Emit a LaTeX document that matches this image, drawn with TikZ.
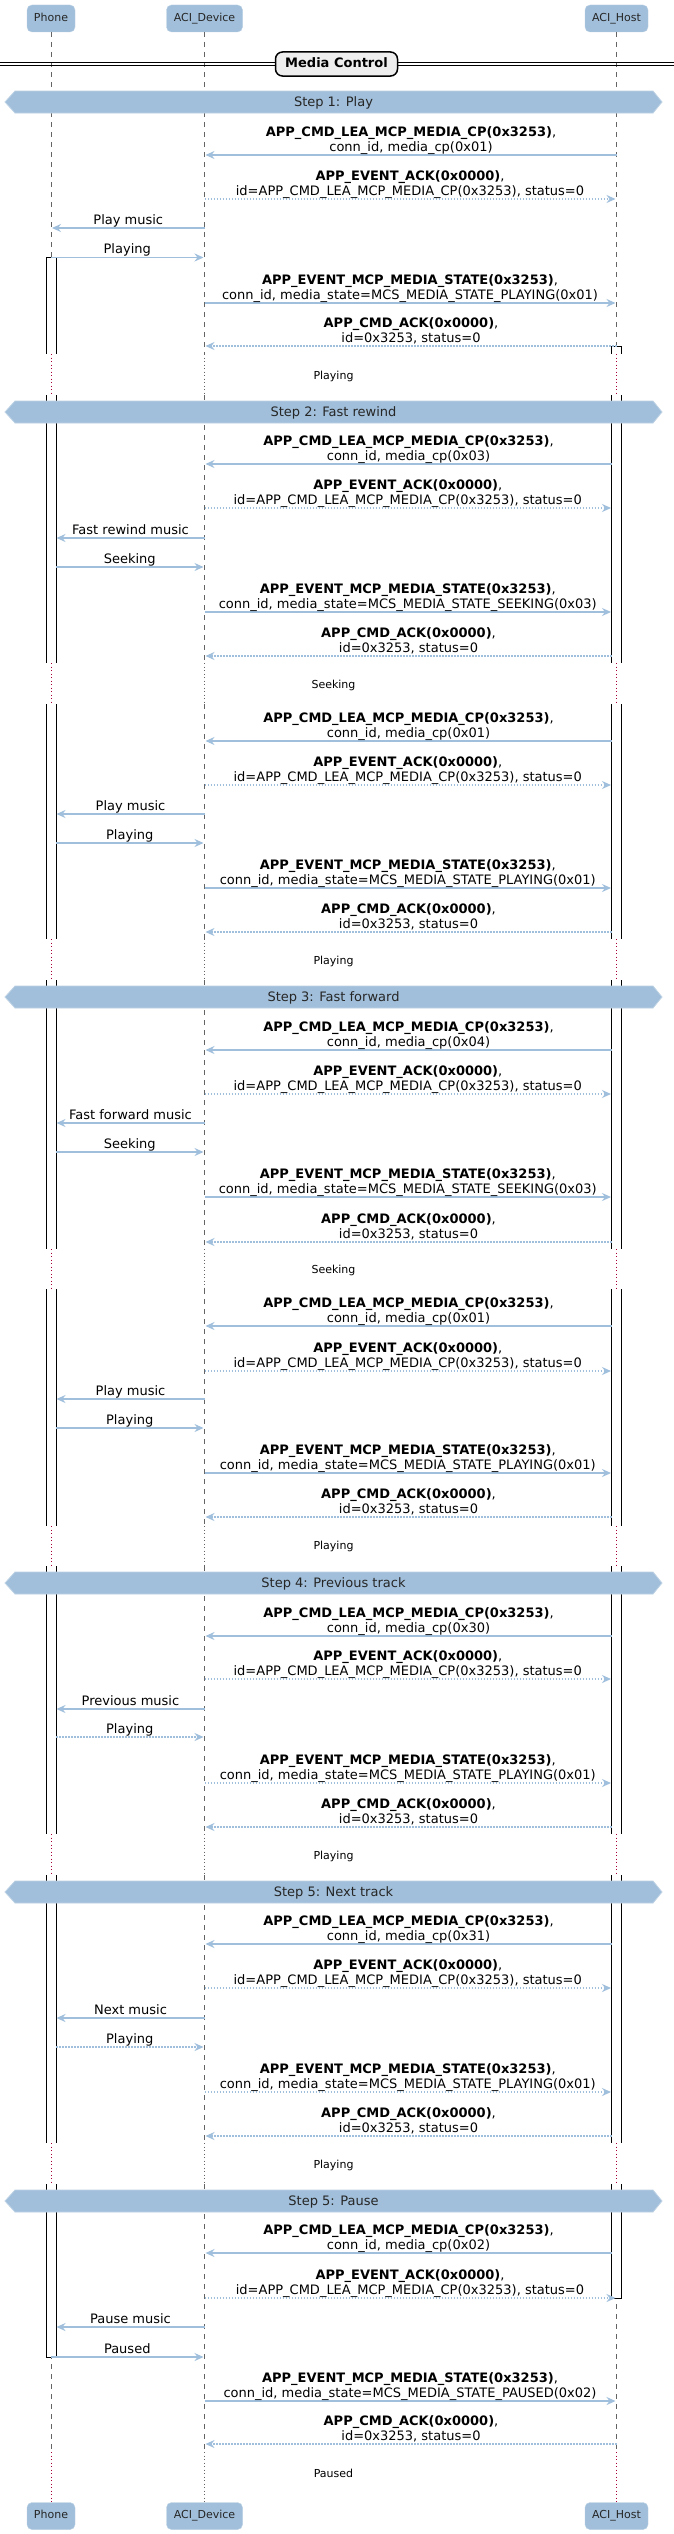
\documentclass[tikz,border=0pt]{standalone}
\usepackage{fontspec}
\setmainfont{DejaVu Sans}
\usetikzlibrary{arrows.meta}
\definecolor{pblue}{RGB}{161,191,218}
\definecolor{ablue}{RGB}{160,191,220}
\definecolor{dred}{RGB}{168,0,54}
\definecolor{lgray}{RGB}{100,100,100}
\definecolor{mcgray}{RGB}{238,238,238}
\newcounter{mc}
\newcommand\tCMD{APP\_CMD\_LEA\_MCP\_MEDIA\_CP(0x3253)}
\newcommand\tACK{APP\_EVENT\_ACK(0x0000)}
\newcommand\tACKb{id=APP\_CMD\_LEA\_MCP\_MEDIA\_CP(0x3253), status=0}
\newcommand\tST{APP\_EVENT\_MCP\_MEDIA\_STATE(0x3253)}
\newcommand\tCA{APP\_CMD\_ACK(0x0000)}
\newcommand\tCAb{id=0x3253, status=0}
% y, x1, x2, style, text
\newcommand\msgone[5]{%
  \stepcounter{mc}%
  \coordinate (a\themc) at (#2,#1);
  \coordinate (b\themc) at (#3,#1);
  \draw[#4] (a\themc) -- (b\themc);
  \node[lbl] (t\themc) at ({(#2+#3)/2},{#1-4}) {#5};
}
% y, x1, x2, style, bold part, second line
\newcommand\msgtwo[6]{%
  \stepcounter{mc}%
  \coordinate (a\themc) at (#2,#1);
  \coordinate (b\themc) at (#3,#1);
  \draw[#4] (a\themc) -- (b\themc);
  \node[lbl] (t\themc) at ({(#2+#3)/2},{#1-19}) {\textbf{#5},};
  \node[lbl] (u\themc) at ({(#2+#3)/2},{#1-4}) {#6};
}
% y centre, name, text
\newcommand\banner[3]{%
  \path[bannershape] (5,#1) -- (15,#1-11) -- (653,#1-11) -- (662,#1) -- (653,#1+11) -- (15,#1+11) -- cycle;
  \node[bnlbl] (#2) at (333.5,#1+4.5) {#3};
}
\begin{document}
\begin{tikzpicture}[x=1bp,y=-1bp,
  msgsol/.style={draw=ablue, line width=1.5bp, -{Stealth[length=9bp,width=8bp,inset=3bp]}},
  msgdot/.style={msgsol, dash pattern=on 1.5bp off 1.5bp},
  lbl/.style={anchor=base, inner sep=0, font=\fontsize{13bp}{15bp}\selectfont},
  dlbl/.style={anchor=base, inner sep=0, font=\fontsize{11bp}{13bp}\selectfont},
  bnlbl/.style={anchor=base, inner sep=0, text=black!85, font=\fontsize{13bp}{15bp}\selectfont},
  bannershape/.style={fill=pblue, draw=pblue!70!white, line width=0.8bp},
  lifeln/.style={draw=lgray, line width=0.8bp, dash pattern=on 5bp off 5bp},
  rdot/.style={draw=dred, line width=1bp, dash pattern=on 1bp off 2.5bp},
  gdot/.style={draw=lgray, line width=0.8bp, dash pattern=on 1bp off 2.5bp},
  actbar/.style={draw=black, line width=1bp},
  head/.style={draw=pblue!75!white, fill=pblue, rounded corners=5bp, minimum height=27bp,
    inner sep=0, text height=8bp, text depth=2.5bp, text=black!85, font=\fontsize{11bp}{13bp}\selectfont},
  mcbox/.style={draw=black, fill=mcgray, line width=1.5bp, rounded corners=7bp,
    minimum width=122bp, minimum height=24bp, inner sep=0, text height=9.5bp, text depth=3bp,
    font=\bfseries\fontsize{13bp}{15bp}\selectfont}
]
\useasboundingbox (0,0) rectangle (674,2534);
\fill[white] (0,0) rectangle (674,2534);

% heads
\node[head, minimum width=48bp] (ph) at (51,18.5) {Phone};
\node[head, minimum width=76bp] (dv) at (204.5,18.5) {ACI\_Device};
\node[head, minimum width=63bp] (hs) at (616.5,18.5) {ACI\_Host};
\node[head, minimum width=48bp] (phb) at (51,2516) {Phone};
\node[head, minimum width=76bp] (dvb) at (204.5,2516) {ACI\_Device};
\node[head, minimum width=63bp] (hsb) at (616.5,2516) {ACI\_Host};

% lifelines
\foreach \x in {51,204.5,616.5}{
  \foreach \a/\b in {32/354,395/663,704/939,980/1249,1289/1526,1566/1834,1875/2143,2184/2452}{
    \draw[lifeln] (\x,\a) -- (\x,\b);
  }
}
\foreach \a/\b in {354/395,663/704,939/980,1249/1289,1526/1566,1834/1875,2143/2184,2452/2503}{
  \draw[rdot] (51,\a) -- (51,\b);
  \draw[gdot] (204.5,\a) -- (204.5,\b);
  \draw[rdot] (616.5,\a) -- (616.5,\b);
}

% activation bars
\foreach \a/\b in {257/354,395/663,704/939,980/1249,1289/1526,1566/1834,1875/2143,2184/2357}{
  \fill[white] (46,\a) rectangle (56,\b);
  \draw[actbar] (46,\a) -- (46,\b) (56,\a) -- (56,\b);
}
\draw[actbar] (46,257) -- (56,257);
\draw[actbar] (46,2357) -- (56,2357);
\foreach \a/\b in {346/354,395/663,704/939,980/1249,1289/1526,1566/1834,1875/2143,2184/2298}{
  \fill[white] (611.5,\a) rectangle (621.5,\b);
  \draw[actbar] (611.5,\a) -- (611.5,\b) (621.5,\a) -- (621.5,\b);
}
\draw[actbar] (611.5,346) -- (621.5,346);
\draw[actbar] (611.5,2298) -- (621.5,2298);

% Media Control divider
\draw[black, line width=1bp] (0,62.5) -- (674,62.5);
\draw[black, line width=1bp] (0,66) -- (674,66);
\node[mcbox] (mctl) at (336.5,64) {Media Control};

% Step 1
\banner{102}{s1}{Step 1: Play}
\msgtwo{155}{616.5}{205.5}{msgsol}{\tCMD}{conn\_id, media\_cp(0x01)}
\msgtwo{199}{204.5}{615.5}{msgdot}{\tACK}{\tACKb}
\msgone{228}{204.5}{52}{msgsol}{Play music}
\msgone{257.5}{51}{203.5}{msgsol}{Playing}
\msgtwo{303}{204.5}{615.5}{msgsol}{\tST}{conn\_id, media\_state=MCS\_MEDIA\_STATE\_PLAYING(0x01)}
\msgtwo{346}{616.5}{205.5}{msgdot}{\tCA}{\tCAb}
\node[dlbl] (d1) at (333.5,379) {Playing};

% Step 2
\banner{412}{s2}{Step 2: Fast rewind}
\msgtwo{464}{611.5}{205.5}{msgsol}{\tCMD}{conn\_id, media\_cp(0x03)}
\msgtwo{508}{204.5}{611}{msgdot}{\tACK}{\tACKb}
\msgone{538}{204.5}{56.5}{msgsol}{Fast rewind music}
\msgone{567}{56}{203.5}{msgsol}{Seeking}
\msgtwo{612}{204.5}{611}{msgsol}{\tST}{conn\_id, media\_state=MCS\_MEDIA\_STATE\_SEEKING(0x03)}
\msgtwo{656}{611.5}{205.5}{msgdot}{\tCA}{\tCAb}
\node[dlbl] (d2) at (333.5,688) {Seeking};
\msgtwo{741}{611.5}{205.5}{msgsol}{\tCMD}{conn\_id, media\_cp(0x01)}
\msgtwo{785}{204.5}{611}{msgdot}{\tACK}{\tACKb}
\msgone{814}{204.5}{56.5}{msgsol}{Play music}
\msgone{843}{56}{203.5}{msgsol}{Playing}
\msgtwo{888}{204.5}{611}{msgsol}{\tST}{conn\_id, media\_state=MCS\_MEDIA\_STATE\_PLAYING(0x01)}
\msgtwo{932}{611.5}{205.5}{msgdot}{\tCA}{\tCAb}
\node[dlbl] (d3) at (333.5,964) {Playing};

% Step 3
\banner{997}{s3}{Step 3: Fast forward}
\msgtwo{1050}{611.5}{205.5}{msgsol}{\tCMD}{conn\_id, media\_cp(0x04)}
\msgtwo{1094}{204.5}{611}{msgdot}{\tACK}{\tACKb}
\msgone{1123}{204.5}{56.5}{msgsol}{Fast forward music}
\msgone{1152}{56}{203.5}{msgsol}{Seeking}
\msgtwo{1197}{204.5}{611}{msgsol}{\tST}{conn\_id, media\_state=MCS\_MEDIA\_STATE\_SEEKING(0x03)}
\msgtwo{1242}{611.5}{205.5}{msgdot}{\tCA}{\tCAb}
\node[dlbl] (d4) at (333.5,1273) {Seeking};
\msgtwo{1326}{611.5}{205.5}{msgsol}{\tCMD}{conn\_id, media\_cp(0x01)}
\msgtwo{1371}{204.5}{611}{msgdot}{\tACK}{\tACKb}
\msgone{1399}{204.5}{56.5}{msgsol}{Play music}
\msgone{1428}{56}{203.5}{msgsol}{Playing}
\msgtwo{1473}{204.5}{611}{msgsol}{\tST}{conn\_id, media\_state=MCS\_MEDIA\_STATE\_PLAYING(0x01)}
\msgtwo{1517}{611.5}{205.5}{msgdot}{\tCA}{\tCAb}
\node[dlbl] (d5) at (333.5,1549) {Playing};

% Step 4
\banner{1583}{s4}{Step 4: Previous track}
\msgtwo{1636}{611.5}{205.5}{msgsol}{\tCMD}{conn\_id, media\_cp(0x30)}
\msgtwo{1679}{204.5}{611}{msgdot}{\tACK}{\tACKb}
\msgone{1709}{204.5}{56.5}{msgsol}{Previous music}
\msgone{1737}{56}{203.5}{msgdot}{Playing}
\msgtwo{1783}{204.5}{611}{msgdot}{\tST}{conn\_id, media\_state=MCS\_MEDIA\_STATE\_PLAYING(0x01)}
\msgtwo{1827}{611.5}{205.5}{msgdot}{\tCA}{\tCAb}
\node[dlbl] (d6) at (333.5,1859) {Playing};

% Step 5 next track
\banner{1892}{s5}{Step 5: Next track}
\msgtwo{1944}{611.5}{205.5}{msgsol}{\tCMD}{conn\_id, media\_cp(0x31)}
\msgtwo{1988}{204.5}{611}{msgdot}{\tACK}{\tACKb}
\msgone{2018}{204.5}{56.5}{msgsol}{Next music}
\msgone{2047}{56}{203.5}{msgdot}{Playing}
\msgtwo{2092}{204.5}{611}{msgdot}{\tST}{conn\_id, media\_state=MCS\_MEDIA\_STATE\_PLAYING(0x01)}
\msgtwo{2136}{611.5}{205.5}{msgdot}{\tCA}{\tCAb}
\node[dlbl] (d7) at (333.5,2168) {Playing};

% Step 5 pause
\banner{2201}{s6}{Step 5: Pause}
\msgtwo{2253}{611.5}{205.5}{msgsol}{\tCMD}{conn\_id, media\_cp(0x02)}
\msgtwo{2298}{204.5}{615.5}{msgdot}{\tACK}{\tACKb}
\msgone{2327}{204.5}{56.5}{msgsol}{Pause music}
\msgone{2357}{51}{203.5}{msgsol}{Paused}
\msgtwo{2401}{204.5}{615.5}{msgsol}{\tST}{conn\_id, media\_state=MCS\_MEDIA\_STATE\_PAUSED(0x02)}
\msgtwo{2444}{616.5}{205.5}{msgdot}{\tCA}{\tCAb}
\node[dlbl] (d8) at (333.5,2477) {Paused};
\end{tikzpicture}
\end{document}
